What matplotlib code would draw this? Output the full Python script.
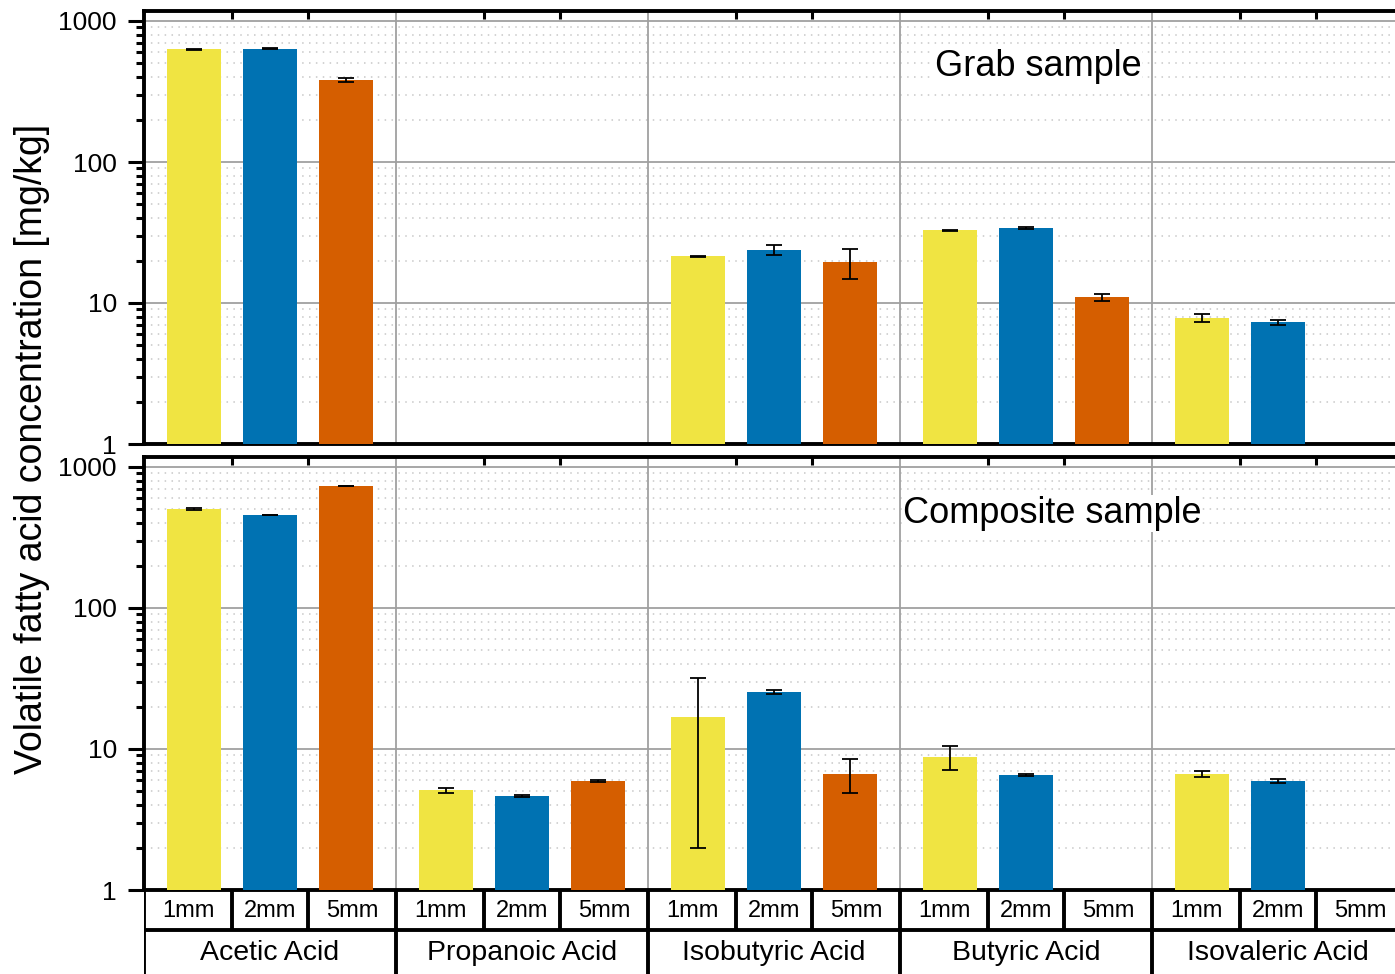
import numpy as np
import matplotlib.pyplot as plt
from matplotlib.ticker import LogLocator, NullFormatter, FixedLocator

plt.rcParams['font.family'] = ['Liberation Sans', 'DejaVu Sans']

# ==========================
# Data
# ==========================
acids = ['Acetic Acid', 'Propanoic Acid', 'Isobutyric Acid', 'Butyric Acid', 'Isovaleric Acid']
sizes = ['1mm', '2mm', '5mm']
colors = ['#F0E442', '#0072B2', '#D55E00']

# nan = not detected
grab_1mm = [632, np.nan, 21.5, 32.9, 7.8]
grab_2mm = [635, np.nan, 23.8, 34.0, 7.3]
grab_5mm = [382, np.nan, 19.5, 11.0, np.nan]
grab_err_1mm = [5, np.nan, 0.2, 0.3, 0.5]
grab_err_2mm = [5, np.nan, 2.0, 0.6, 0.3]
grab_err_5mm = [12, np.nan, 4.6, 0.6, np.nan]

comp_1mm = [504, 5.1, 16.9, 8.8, 6.65]
comp_2mm = [457, 4.65, 25.4, 6.55, 5.95]
comp_5mm = [733, 5.95, 6.65, np.nan, np.nan]
comp_err_1mm = [12, 0.2, 14.9, 1.7, 0.35]
comp_err_2mm = [3, 0.05, 0.8, 0.1, 0.2]
comp_err_5mm = [4, 0.08, 1.8, np.nan, np.nan]

panels = [
    ('Grab sample', [grab_1mm, grab_2mm, grab_5mm], [grab_err_1mm, grab_err_2mm, grab_err_5mm]),
    ('Composite sample', [comp_1mm, comp_2mm, comp_5mm], [comp_err_1mm, comp_err_2mm, comp_err_5mm]),
]

# ==========================
# Layout
# ==========================
W, H = 1395, 974
fig = plt.figure(figsize=(W / 100, H / 100), dpi=100)

left_px, width_px = 144, 1260
offset = 0.3
bar_w = 0.214
x = np.arange(len(acids))


def px_axes(top, bottom):
    return fig.add_axes([left_px / W, (H - bottom) / H, width_px / W, (bottom - top) / H])


ax_top = px_axes(11, 444)
ax_bot = px_axes(457, 890)
text_pos = [(0.7095, 0.872), (0.7206, 0.870)]

for ax, (title, vals, errs), tpos in zip([ax_top, ax_bot], panels, text_pos):
    for k in range(3):
        ax.bar(x + (k - 1) * offset, vals[k], width=bar_w, color=colors[k], zorder=3)
        ax.errorbar(x + (k - 1) * offset, vals[k], yerr=errs[k], fmt='none',
                    ecolor='black', elinewidth=1.3, capsize=6, capthick=1.3, zorder=4)
    ax.set_yscale('log')
    ax.set_ylim(1, 10 ** (3 + 10 / 141))
    ax.set_xlim(-0.5, len(acids) - 0.5)
    ax.set_yticks([1, 10, 100, 1000])
    ax.set_yticklabels(['1', '10', '100', '1000'])
    ax.yaxis.set_minor_locator(LogLocator(base=10, subs=np.arange(2, 10)))
    ax.yaxis.set_minor_formatter(NullFormatter())

    # sub-boundary ticks on the top spine
    sub_bounds = np.concatenate([x - offset / 2, x + offset / 2])
    ax.xaxis.set_major_locator(FixedLocator(sub_bounds))
    ax.tick_params(axis='x', which='major', direction='in', top=True, bottom=False,
                   labelbottom=False, length=6, width=2.2)
    ax.tick_params(axis='y', which='major', direction='out', length=11.5, width=2.2,
                   labelsize=19, pad=8)
    ax.tick_params(axis='y', which='minor', direction='out', length=6, width=2.2)

    # grid
    ax.grid(False)
    for v in [10, 100, 1000]:
        ax.axhline(v, color='#a0a0a0', lw=1.3, zorder=1)
    for dec in [1, 10, 100, 1000]:
        for s in range(2, 10):
            ax.axhline(dec * s, color='#c8c8c8', lw=1.1, ls=(0, (1, 3.5)), zorder=1)
    for b in x[:-1] + 0.5:
        ax.axvline(b, color='#a0a0a0', lw=1.3, zorder=1)

    for side in ['left', 'top', 'bottom']:
        ax.spines[side].set_linewidth(2.8)
    ax.spines['right'].set_visible(False)

    ax.text(tpos[0], tpos[1], title, transform=ax.transAxes, ha='center', va='center',
            fontsize=26, zorder=5,
            bbox=dict(facecolor='white', edgecolor='none', pad=0.5))

fig.text(32 / W, 1 - 449 / H, 'Volatile fatty acid concentration [mg/kg]',
         rotation=90, ha='center', va='center', fontsize=27)

# ==========================
# Category table below the bottom panel
# ==========================
tab = px_axes(890, 974)
tab.set_xlim(-0.5, len(acids) - 0.5)
tab.set_ylim(84, 0)
tab.axis('off')
lw = 2.8
tab.axhline(40, color='black', lw=lw)
for i in range(len(acids)):
    tab.plot([i - 0.5, i - 0.5], [0, 84], color='black', lw=lw, solid_capstyle='butt')
    for b in [i - offset / 2, i + offset / 2]:
        tab.plot([b, b], [0, 40], color='black', lw=lw, solid_capstyle='butt')
    for k, s in enumerate(sizes):
        lo = [i - 0.5, i - offset / 2, i + offset / 2][k]
        hi = [i - offset / 2, i + offset / 2, i + 0.5][k]
        tab.text((lo + hi) / 2, 21, s, ha='center', va='center', fontsize=17)
    tab.text(i, 63, acids[i], ha='center', va='center', fontsize=20.5)

fig.savefig('out.png', dpi=100)
